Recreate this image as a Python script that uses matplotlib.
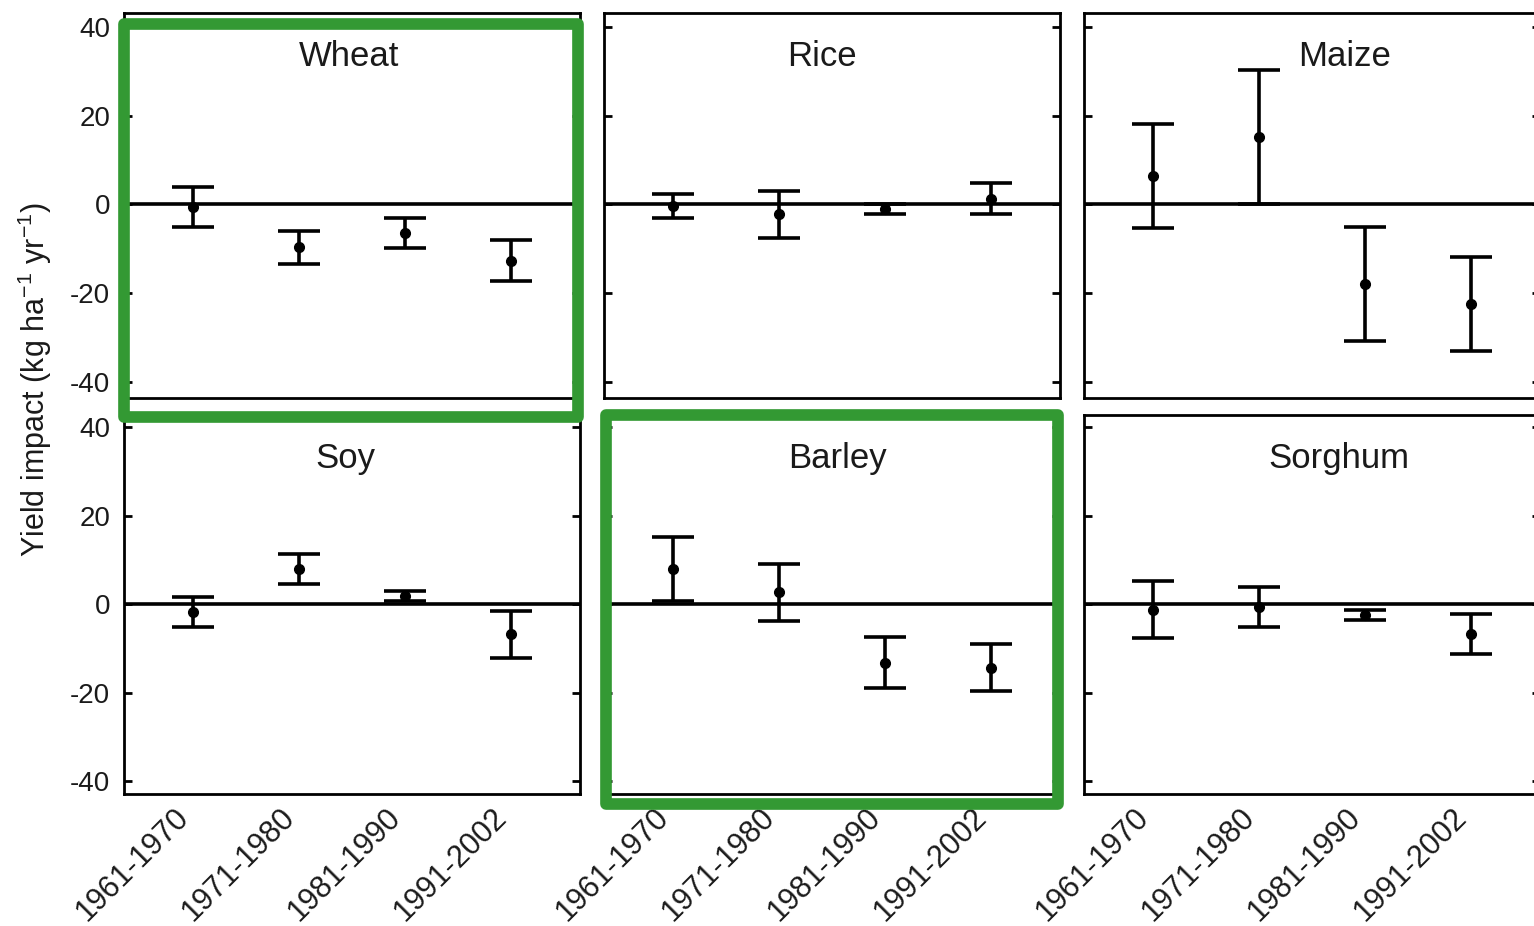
import numpy as np
import matplotlib
matplotlib.use('agg')
import matplotlib.pyplot as plt
from matplotlib.patches import Rectangle
from matplotlib.transforms import ScaledTranslation

plt.rcParams['font.family'] = ['Liberation Sans', 'DejaVu Sans']
plt.rcParams['mathtext.fontset'] = 'custom'
plt.rcParams['mathtext.rm'] = 'Liberation Sans'
plt.rcParams['mathtext.it'] = 'Liberation Sans:italic'
plt.rcParams['axes.unicode_minus'] = False

# decades and crops
periods = ['1961-1970', '1971-1980', '1981-1990', '1991-2002']
crops = ['Wheat', 'Rice', 'Maize', 'Soy', 'Barley', 'Sorghum']

# yield impact (kg ha-1 yr-1) and error half-widths per decade
wheat = [-0.6, -9.7, -6.4, -12.7]
wheat_err = [4.6, 3.8, 3.4, 4.6]
rice = [-0.3, -2.2, -1.0, 1.3]
rice_err = [2.7, 5.3, 1.1, 3.4]
maize = [6.4, 15.2, -18.0, -22.5]
maize_err = [11.7, 15.1, 12.8, 10.6]
soy = [-1.8, 7.9, 1.8, -6.8]
soy_err = [3.4, 3.4, 1.1, 5.3]
barley = [8.0, 2.7, -13.2, -14.3]
barley_err = [7.2, 6.4, 5.7, 5.3]
sorghum = [-1.2, -0.7, -2.5, -6.7]
sorghum_err = [6.4, 4.5, 1.1, 4.5]

values = [wheat, rice, maize, soy, barley, sorghum]
errors = [wheat_err, rice_err, maize_err, soy_err, barley_err, sorghum_err]
highlighted = ['Wheat', 'Barley']

W, H = 1534, 926
fig = plt.figure(figsize=(W / 100, H / 100), dpi=100)

# panel layout in pixels: left edges, row top/bottom
col_left = [124, 604, 1084]
col_w = 456
rows = [(12.5, 398, (-43.6, 43.2)), (415, 794, (-42.9, 42.8))]
title_x = [0.493, 0.477, 0.571, 0.485, 0.513, 0.559]

lw = 2.6
txt = '#1a1a1a'
x = np.arange(1, len(periods) + 1)
shift = ScaledTranslation(-19 / 100, 3 / 100, fig.dpi_scale_trans)

axes = []
for i, crop in enumerate(crops):
    r, c = divmod(i, 3)
    top, bot, ylim = rows[r]
    ax = fig.add_axes([col_left[c] / W, 1 - bot / H, col_w / W, (bot - top) / H])
    axes.append(ax)
    ax.axhline(0, color='black', lw=lw, zorder=1)
    ax.errorbar(x, values[i], yerr=errors[i], fmt='o', color='black',
                ms=7, elinewidth=lw, capsize=15, capthick=lw, zorder=3)
    ax.set_xlim(0.35, 4.65)
    ax.set_ylim(*ylim)
    ax.set_yticks([-40, -20, 0, 20, 40])
    ax.tick_params(axis='y', direction='in', length=6, width=2,
                   left=True, right=True, labelsize=20, pad=10, labelcolor=txt)
    ax.tick_params(axis='x', length=0, labelsize=22, pad=8, labelcolor=txt)
    for s in ax.spines.values():
        s.set_linewidth(2)
    if c != 0:
        ax.set_yticklabels([])
    ax.set_xticks(x)
    if r == 0:
        ax.set_xticklabels([])
    else:
        ax.set_xticklabels(periods, rotation=45, ha='right', va='top',
                           rotation_mode='anchor')
        for lab in ax.get_xticklabels():
            lab.set_transform(lab.get_transform() + shift)
    ax.text(title_x[i], 0.886, crop, transform=ax.transAxes, ha='center',
            va='center', fontsize=25, color=txt)

fig.text(35 / W, 1 - 380 / H, r'Yield impact (kg ha$^{-1}$ yr$^{-1}$)',
         rotation=90, ha='center', va='center', fontsize=22, color=txt)

# green frames around the highlighted crops
frames = {'Wheat': (124, 24.5, 577.5, 417.5), 'Barley': (605.5, 415.3, 1058, 803.8)}
for crop in highlighted:
    x0, y0, x1, y1 = frames[crop]
    fig.patches.append(Rectangle((x0 / W, 1 - y1 / H), (x1 - x0) / W, (y1 - y0) / H,
                                 transform=fig.transFigure, fill=False,
                                 edgecolor='#339933', lw=8.4, joinstyle='round',
                                 zorder=10))

fig.savefig('out.png', dpi=100)
